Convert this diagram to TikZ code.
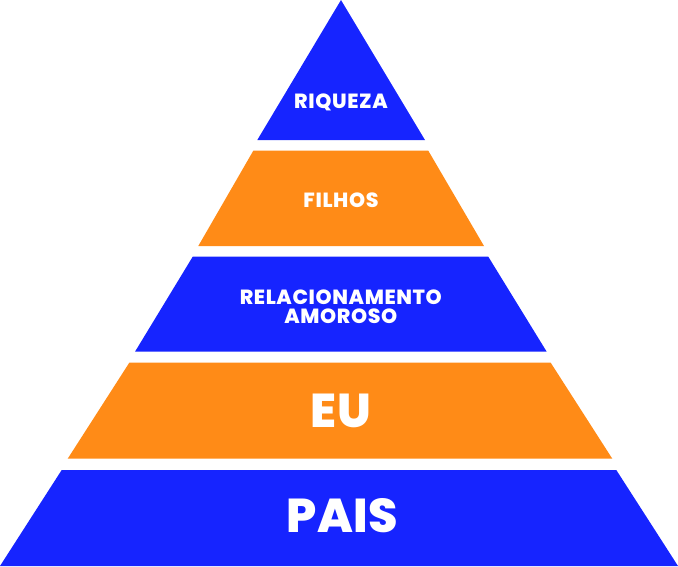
\documentclass[tikz,border=0pt]{standalone}
\usepackage{fontspec}
\setmainfont{Poppins}[BoldFont={Poppins ExtraBold}]
\usepackage{tikz}
\usetikzlibrary{positioning}
\definecolor{pyrblue}{RGB}{22,36,255}
\definecolor{pyrorange}{RGB}{255,139,23}

\begin{document}
\begin{tikzpicture}[
  x=1pt, y=-1pt,
  bandtext/.style={text=white, font=\bfseries\fontsize{20.5}{19.3}\selectfont\addfontfeatures{LetterSpace=3}, align=center, inner sep=0pt, anchor=base},
  bigtext/.style={text=white, font=\bfseries\fontsize{47.5}{48}\selectfont\addfontfeatures{LetterSpace=1}, inner sep=0pt, anchor=base},
]
  \useasboundingbox (0,0) rectangle (678,566);

  % Top: riqueza
  \fill[pyrblue] (341,0) -- (425,140) -- (257.3,140) -- cycle;
  \node[bandtext] (riqueza) at (341,108) {RIQUEZA};

  % Band 2: filhos
  \fill[pyrorange] (253.3,150.7) -- (428.3,150.7) -- (484,246) -- (198.3,246) -- cycle;
  \node[bandtext] (filhos) at (341,207.3) {FILHOS};

  % Band 3: relacionamento
  \fill[pyrblue] (192.7,256.7) -- (488.3,256.7) -- (546.7,351.7) -- (135,351.7) -- cycle;
  \node[bandtext] (relacionamento) at (340.8,323.3) {RELACIONAMENTO\\AMOROSO};

  % Band 4: eu
  \fill[pyrorange] (129.3,362.7) -- (550.7,362.7) -- (612.3,458.7) -- (67.7,458.7) -- cycle;
  \node[bigtext] (eu) at (341,427.3) {EU};

  % Base: pais
  \fill[pyrblue] (61.7,470) -- (616.3,470) -- (678,566) -- (0,566) -- cycle;
  \node[bigtext] (pais) at (342.5,532.7) {PAIS};

\end{tikzpicture}
\end{document}
